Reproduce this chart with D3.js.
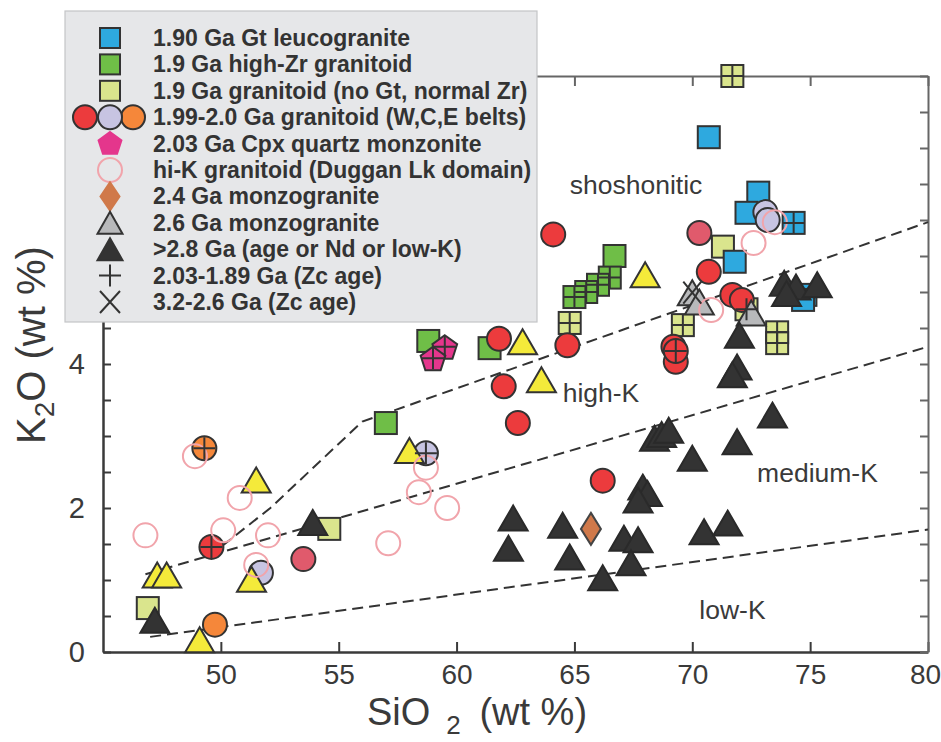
<!DOCTYPE html>
<html>
<head>
<meta charset="utf-8">
<script src="https://cdn.jsdelivr.net/npm/d3@7"></script>
<style>
  body { margin: 0; background: #fff; }
  svg text { font-family: "Liberation Sans", Arial, Helvetica, sans-serif; }
</style>
</head>
<body>
<svg id="chart" width="941" height="742"></svg>
<script>
// ---- data (SiO2 wt%, K2O wt%) ----
const blueSq = [[70.7,7.15],[72.8,6.38],[72.3,6.1],[74.3,5.96],[71.8,5.42],[74.8,4.96],[74.7,4.89]];
const greenSq = [[66.7,5.5],[66.5,5.2],[66.0,5.1],[65.5,5.0],[65.0,4.93],[58.8,4.32],[61.4,4.22],[57.0,3.18]];
const paleSq = [[71.7,8.0],[71.3,5.63],[64.8,4.57],[69.6,4.54],[72.3,4.76],[73.6,4.44],[73.6,4.29],[54.6,1.71],[46.9,0.61]];
const redCirc = [[64.1,5.8],[70.7,5.28],[71.7,4.96],[72.1,4.89],[61.8,4.35],[64.7,4.26],[62.0,3.69],[62.6,3.18],
                 [69.2,4.24],[69.3,4.03],[69.3,4.18],[66.2,2.38],[49.6,1.46]];
const roseCirc = [[70.3,5.82],[53.5,1.29]];
const lilacCirc = [[73.1,6.11],[73.2,6.0],[58.7,2.76],[51.7,1.1]];
const orangeCirc = [[49.3,2.83],[49.75,0.38]];
const pentagons = [[59.5,4.24],[59.0,4.08]];
const hiK = [[73.5,5.97],[72.6,5.68],[70.8,4.75],[58.7,2.56],[58.4,2.22],[59.6,2.0],[57.1,1.51],
             [48.9,2.72],[50.8,2.14],[50.1,1.69],[52.0,1.62],[46.8,1.62],[51.5,1.21]];
const diamonds = [[65.7,1.71]];
const yellowTri = [[68.0,5.24],[62.8,4.31],[63.6,3.78],[58.0,2.8],[51.5,2.39],[47.3,1.07],[47.7,1.07],[51.3,1.01],[49.1,0.17]];
const grayTri = [[70.0,4.99],[70.3,4.86],[72.5,4.71]];
const blackTri = [[73.9,5.12],[74.4,5.07],[75.3,5.1],[74.0,4.98],[72.0,4.4],[71.9,3.96],[71.7,3.85],[73.4,3.29],
                  [71.9,2.92],[68.4,2.97],[68.7,3.02],[69.0,3.08],[70.0,2.69],[67.9,2.29],[68.1,2.2],[67.7,2.11],
                  [62.4,1.86],[62.2,1.44],[64.5,1.76],[64.8,1.32],[67.1,1.58],[67.7,1.56],[67.4,1.24],[66.2,1.03],
                  [70.5,1.67],[71.5,1.79],[53.9,1.8],[47.2,0.44]];
const zcYoung = [[74.3,5.96],[71.7,8.0],[66.5,5.2],[66.0,5.1],[65.5,5.0],[65.0,4.93],[64.8,4.57],[69.6,4.54],
                 [72.3,4.76],[73.6,4.44],[73.6,4.29],[69.3,4.18],[49.6,1.46],[58.7,2.76],[49.3,2.83],[59.5,4.24],[59.0,4.08]];
const zcOld = [[70.0,4.99]];

// series boundaries (dashed)
const lineShoshonitic = [[49.5,1.33],[52.1,2.0],[56.0,3.2],[80,5.97]];
const lineHighK = [[46.8,1.08],[80,4.24]];
const lineLowK = [[47.0,0.21],[80,1.7]];

const fieldLabels = [["shoshonitic",64.8,6.36],["high-K",64.5,3.47],["medium-K",72.75,2.36],["low-K",70.3,0.46]];

const xTicks = [50,55,60,65,70,75,80];
const yTicks = d3.range(0, 8.01, 0.5);
const yTickLabels = [0,2,4,6,8];

const legendItems = [
  ["blue", "1.90 Ga Gt leucogranite"],
  ["green", "1.9 Ga high-Zr granitoid"],
  ["pale", "1.9 Ga granitoid (no Gt, normal Zr)"],
  ["circles", "1.99-2.0 Ga granitoid (W,C,E belts)"],
  ["pent", "2.03 Ga Cpx quartz monzonite"],
  ["hik", "hi-K granitoid (Duggan Lk domain)"],
  ["diam", "2.4 Ga monzogranite"],
  ["gtri", "2.6 Ga monzogranite"],
  ["btri", ">2.8 Ga (age or Nd or low-K)"],
  ["plus", "2.03-1.89 Ga (Zc age)"],
  ["cross", "3.2-2.6 Ga (Zc age)"]
];

const C = {
  blue: "#2ea9df", green: "#6fbe47", pale: "#dae58d", red: "#ec3b3d", rose: "#e05a6c",
  lilac: "#c7c4e2", orange: "#f5873a", pent: "#e4368c", hik: "#f1a4ab", diam: "#d0794a",
  yellow: "#f4ea3a", gray: "#b8b9bb", black: "#333333", ink: "#333333"
};

const svg = d3.select("#chart");
const x = d3.scaleLinear().domain([45, 80]).range([103, 928]);
const y = d3.scaleLinear().domain([0, 8]).range([652, 76]);

// ---- axes ----
const axB = svg.append("g").attr("transform", `translate(0,${y(0)})`)
  .call(d3.axisBottom(x).tickValues(xTicks).tickSize(-10).tickSizeOuter(0).tickPadding(12));
const axT = svg.append("g").attr("transform", `translate(0,${y(8)})`)
  .call(d3.axisTop(x).tickValues(xTicks).tickSize(-10).tickSizeOuter(0).tickFormat(""));
const axL = svg.append("g").attr("transform", `translate(${x(45)},0)`)
  .call(d3.axisLeft(y).tickValues(yTicks).tickSize(-8).tickSizeOuter(0).tickPadding(18)
    .tickFormat(d => yTickLabels.includes(d) ? d : ""));
const axR = svg.append("g").attr("transform", `translate(${x(80)},0)`)
  .call(d3.axisRight(y).tickValues(yTicks).tickSize(-8).tickSizeOuter(0).tickFormat(""));

[axB, axL].forEach(a => {
  a.select(".domain").attr("stroke", "#3a3a3a").attr("stroke-width", 2.5);
  a.selectAll(".tick line").attr("stroke", "#3a3a3a").attr("stroke-width", 2);
  a.selectAll(".tick text").attr("fill", "#3a3a3a").style("font-size", "29px");
});
axB.selectAll(".tick text").style("font-size", "28px");
// last label sits right against the picture's edge
axB.selectAll(".tick text").filter(d => d === 80).attr("dx", -3);
[axT, axR].forEach(a => {
  a.select(".domain").attr("stroke", "#666").attr("stroke-width", 2);
  a.selectAll(".tick line").attr("stroke", "#666").attr("stroke-width", 2);
});

// axis titles
const xt = svg.append("text").attr("x", 367).attr("y", 725).attr("fill", "#3a3a3a").style("font-size", "38px");
xt.append("tspan").text("SiO");
xt.append("tspan").attr("dx", 16).attr("dy", 9).style("font-size", "26px").text("2");
xt.append("tspan").attr("dx", 8).attr("dy", -9).text(" (wt %)");

const yt = svg.append("text").attr("transform", "translate(45,444) rotate(-90)").attr("fill", "#3a3a3a").style("font-size", "40px");
yt.append("tspan").text("K");
yt.append("tspan").attr("dy", 9).style("font-size", "28px").text("2");
yt.append("tspan").attr("dy", -9).text("O  (wt %)");

// ---- boundary lines ----
const line = d3.line().x(d => x(d[0])).y(d => y(d[1]));
[lineShoshonitic, lineHighK, lineLowK].forEach(l => {
  svg.append("path").attr("d", line(l)).attr("fill", "none")
    .attr("stroke", "#333").attr("stroke-width", 2).attr("stroke-dasharray", "11,6");
});

svg.append("g").selectAll("text").data(fieldLabels).enter().append("text")
  .attr("x", d => x(d[1])).attr("y", d => y(d[2]))
  .attr("fill", "#3a3a3a").style("font-size", "26.5px").text(d => d[0]);

// ---- marker helpers ----
function triPath(cx, cy, w, h) {
  return `M${cx},${cy - h / 2}L${cx + w / 2},${cy + h / 2}L${cx - w / 2},${cy + h / 2}Z`;
}
function pentPath(cx, cy, r) {
  let p = "";
  for (let i = 0; i < 5; i++) {
    const a = -Math.PI / 2 + i * 2 * Math.PI / 5;
    p += (i ? "L" : "M") + (cx + r * Math.cos(a)) + "," + (cy + r * Math.sin(a) + 1.5);
  }
  return p + "Z";
}
function diamPath(cx, cy, w, h) {
  return `M${cx},${cy - h / 2}L${cx + w / 2},${cy}L${cx},${cy + h / 2}L${cx - w / 2},${cy}Z`;
}
function squares(g, pts, fill, s) {
  g.selectAll(null).data(pts).enter().append("rect")
    .attr("x", d => x(d[0]) - s / 2).attr("y", d => y(d[1]) - s / 2)
    .attr("width", s).attr("height", s)
    .attr("fill", fill).attr("stroke", C.ink).attr("stroke-width", 2);
}
function circles(g, pts, fill, r, stroke, sw) {
  g.selectAll(null).data(pts).enter().append("circle")
    .attr("cx", d => x(d[0])).attr("cy", d => y(d[1])).attr("r", r)
    .attr("fill", fill).attr("stroke", stroke || C.ink).attr("stroke-width", sw || 2);
}
function shapes(g, pts, fn, fill, stroke) {
  g.selectAll(null).data(pts).enter().append("path")
    .attr("d", d => fn(x(d[0]), y(d[1])))
    .attr("fill", fill).attr("stroke", stroke || C.ink).attr("stroke-width", 2)
    .attr("stroke-linejoin", "miter");
}

const marks = svg.append("g");
squares(marks, paleSq, C.pale, 22);
squares(marks, greenSq, C.green, 22);
squares(marks, blueSq, C.blue, 22);
circles(marks, redCirc, C.red, 12);
circles(marks, roseCirc, C.rose, 12);
circles(marks, lilacCirc, C.lilac, 12);
circles(marks, orangeCirc, C.orange, 12);
shapes(marks, pentagons, (cx, cy) => pentPath(cx, cy, 13), C.pent);
shapes(marks, yellowTri, (cx, cy) => triPath(cx, cy, 29, 25), C.yellow);
shapes(marks, grayTri, (cx, cy) => triPath(cx, cy, 29, 25), C.gray);
shapes(marks, blackTri, (cx, cy) => triPath(cx, cy, 29, 25), C.black, "#2a2a2a");
circles(marks, hiK, "none", 12, C.hik, 2);
shapes(marks, diamonds, (cx, cy) => diamPath(cx, cy, 20, 32), C.diam, "#444");
shapes(marks, zcYoung, (cx, cy) => `M${cx - 11},${cy}h22M${cx},${cy - 11}v22`, "none");
shapes(marks, zcOld, (cx, cy) => `M${cx - 9},${cy - 11}L${cx + 9},${cy + 11}M${cx + 9},${cy - 11}L${cx - 9},${cy + 11}`, "none");

// ---- legend ----
const lg = svg.append("g");
lg.append("rect").attr("x", 65).attr("y", 11).attr("width", 472).attr("height", 311)
  .attr("fill", "#e6e7e9").attr("stroke", "#c4c5c7").attr("stroke-width", 1.2);

const ly = d3.scaleLinear().domain([0, legendItems.length - 1]).range([38, 302]);
const sx = 110;
legendItems.forEach((it, i) => {
  const cy = ly(i);
  const t = it[0];
  const sym = (d, fill, stroke) => lg.append("path").attr("d", d).attr("fill", fill)
    .attr("stroke", stroke || C.ink).attr("stroke-width", 2);
  if (t === "blue" || t === "green" || t === "pale") {
    lg.append("rect").attr("x", sx - 10).attr("y", cy - 10).attr("width", 20).attr("height", 20)
      .attr("fill", C[t]).attr("stroke", C.ink).attr("stroke-width", 2);
  } else if (t === "circles") {
    [[85, C.red], [133, C.orange], [110, C.lilac]].forEach(c =>
      lg.append("circle").attr("cx", c[0]).attr("cy", cy).attr("r", 12)
        .attr("fill", c[1]).attr("stroke", C.ink).attr("stroke-width", 2));
  } else if (t === "pent") {
    sym(pentPath(sx, cy - 1, 12), C.pent, C.pent);
  } else if (t === "hik") {
    lg.append("circle").attr("cx", sx).attr("cy", cy).attr("r", 12)
      .attr("fill", "none").attr("stroke", C.hik).attr("stroke-width", 2);
  } else if (t === "diam") {
    sym(diamPath(sx, cy, 19, 28), C.diam, C.diam);
  } else if (t === "gtri") {
    sym(triPath(sx, cy, 25, 22), C.gray);
  } else if (t === "btri") {
    sym(triPath(sx, cy, 25, 22), C.black);
  } else if (t === "plus") {
    sym(`M${sx - 11},${cy}h22M${sx},${cy - 11}v22`, "none");
  } else if (t === "cross") {
    sym(`M${sx - 10},${cy - 11}L${sx + 10},${cy + 11}M${sx + 10},${cy - 11}L${sx - 10},${cy + 11}`, "none");
  }
  lg.append("text").attr("x", 153).attr("y", cy + 8).attr("fill", "#333")
    .style("font-size", "23px").style("font-weight", "bold").text(it[1]);
});
</script>
</body>
</html>
